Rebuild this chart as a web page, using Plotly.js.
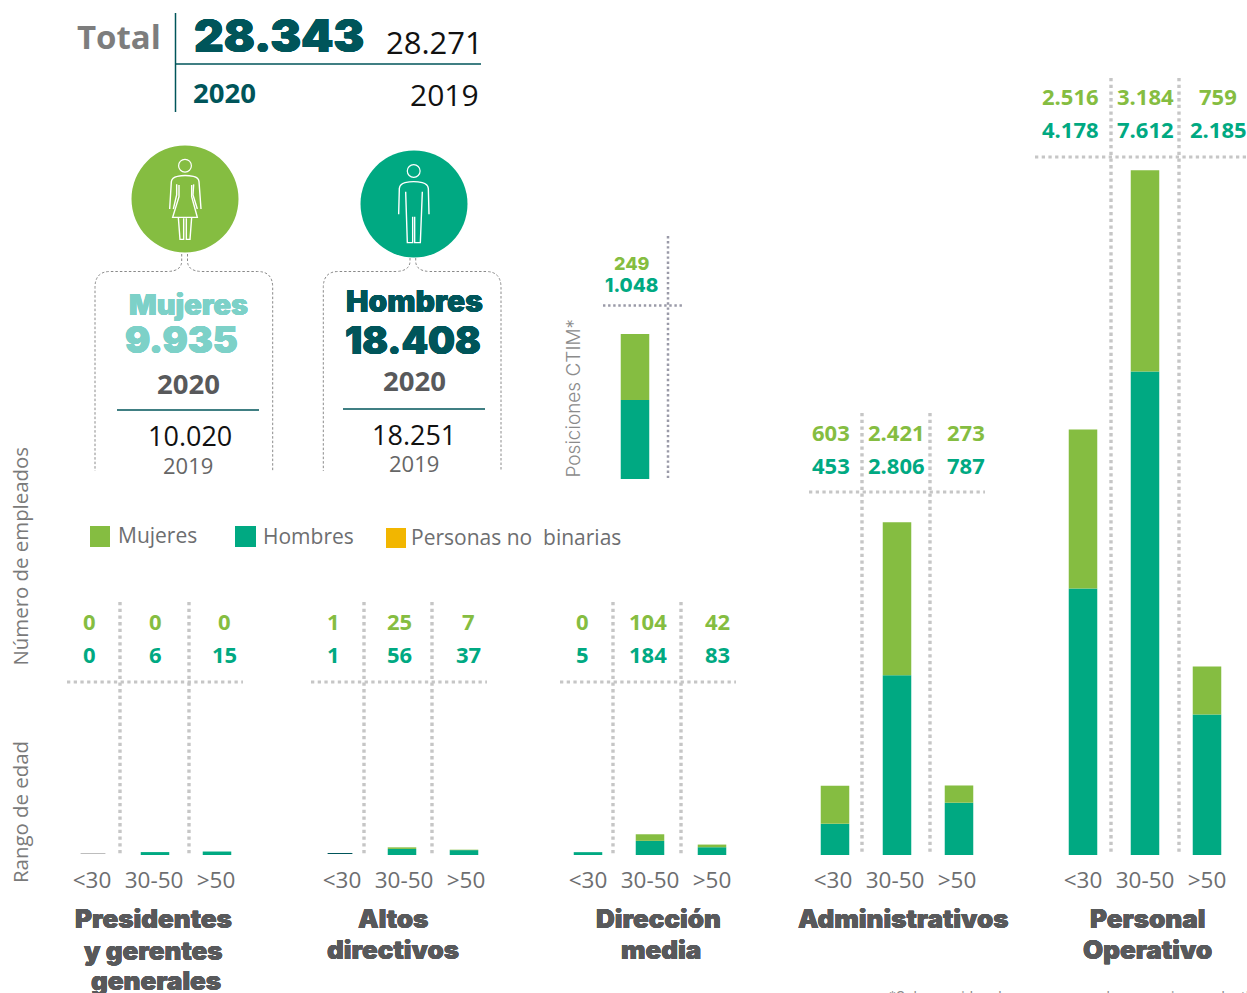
<!DOCTYPE html>
<html lang="es">
<head>
<meta charset="utf-8">
<script src="https://cdn.plot.ly/plotly-3.0.1.min.js"></script>
<style>html,body{margin:0;padding:0;background:#fff;overflow:hidden}#g{width:1247px;height:993px}</style>
</head>
<body>
<div id="g"></div>
<script>
// ---- datos ----
const rangosEdad = ['<30', '30-50', '>50'];
const presidentesMujeres = [0, 0, 0];
const presidentesHombres = [0, 6, 15];
const altosMujeres = [1, 25, 7];
const altosHombres = [1, 56, 37];
const direccionMujeres = [0, 104, 42];
const direccionHombres = [5, 184, 83];
const administrativosMujeres = [603, 2421, 273];
const administrativosHombres = [453, 2806, 787];
const operativoMujeres = [2516, 3184, 759];
const operativoHombres = [4178, 7612, 2185];
const ctimEtiquetaMujeres = 249;
const ctimEtiquetaHombres = 1048;
// Alturas de la barra CTIM tal como se leen en la imagen (no proporcionales a sus etiquetas)
const ctimBarraMujeres = [1046];
const ctimBarraHombres = [1250];
const totales = {a2020: 28343, a2019: 28271};
const mujeresTotal = [9935, 10020];
const hombresTotal = [18408, 18251];

// ---- estilos ----
const W = 1247, H = 993;
const VERDE = '#85bd41', TEAL = '#00a982', OSCURO = '#00555a', AGUA = '#7dd1c8', GRIS = '#58595b', PUNTOS = '#c6c6c6';
const HEAVY = 'Inter, Lato, sans-serif', SANS = '"Open Sans", sans-serif';
const PXU = 0.0632, BASE_OFF = 40;
const fx = x => x / W, fy = y => 1 - y / H;
const es = v => String(v).replace(/\B(?=(\d{3})+(?!\d))/g, '.');

const paneles = [
  {m: presidentesMujeres, h: presidentesHombres, x0: 62, shift: -1, lab: [89, 155, 224], rowG: 620.5, rowT: 653.5, vx: [120, 189], top: 602, hy: 682, hx: [67, 243]},
  {m: altosMujeres, h: altosHombres, x0: 309, shift: 2, lab: [333.5, 399, 468], rowG: 620.5, rowT: 653.5, vx: [364, 432], top: 602, hy: 682, hx: [311, 487]},
  {m: direccionMujeres, h: direccionHombres, x0: 557, shift: 2.5, lab: [582.5, 648, 717], rowG: 620.5, rowT: 653.5, vx: [613, 681], top: 602, hy: 682, hx: [560, 736]},
  {m: administrativosMujeres, h: administrativosHombres, x0: 804, shift: -2, lab: [831, 896.5, 966], rowG: 431.5, rowT: 464.5, vx: [862, 930], top: 413, hy: 492, hx: [809, 985]},
  {m: operativoMujeres, h: operativoHombres, x0: 1052, shift: -1.5, lab: [1070.5, 1145.5, 1218], rowG: 96.5, rowT: 128.5, vx: [1111, 1179], top: 78, hy: 157, hx: [1035, 1247]}
];

const ejeBase = {type: 'category', showgrid: false, zeroline: false, showline: false, ticks: '',
  fixedrange: true, categoryorder: 'array'};
const layout = {
  width: W, height: H, margin: {l: 0, r: 0, t: 0, b: 0}, showlegend: false,
  paper_bgcolor: '#fff', plot_bgcolor: 'rgba(0,0,0,0)', barmode: 'overlay', bargap: 0.54,
  hovermode: false,
  yaxis: {domain: [fy(855), 1], range: [-BASE_OFF, 855 / PXU - BASE_OFF], visible: false, fixedrange: true},
  yaxis2: {domain: [fy(479), 1], range: [0, 479 / PXU], visible: false, fixedrange: true},
  shapes: [], annotations: []
};
const traces = [];
const txt = (s, x, y, size, color, extra = {}) => {
  const {weight = 400, family = SANS, angle = 0, anchor = 'center', shadow = 'none'} = extra;
  layout.annotations.push({text: s, xref: 'paper', yref: 'paper', x: fx(x), y: fy(y), xanchor: anchor, yanchor: 'middle',
    showarrow: false, textangle: angle, font: {family, size, color, weight, shadow}});
};
const grueso = (c, d = 0.6) => `${d}px 0 0 ${c}, -${d}px 0 0 ${c}, 0 ${d * 0.8}px 0 ${c}, 0 -${d * 0.8}px 0 ${c}`;
const linea = (x0, y0, x1, y1, color, width, dash) => layout.shapes.push({type: 'line', xref: 'paper', yref: 'paper',
  x0: fx(x0), y0: fy(y0), x1: fx(x1), y1: fy(y1), line: {color, width, dash: dash || 'solid'}, layer: 'below'});
const PDASH = '3.3px,3.4px';

paneles.forEach((p, i) => {
  const xn = 'x' + (i ? i + 1 : ''), key = 'xaxis' + (i ? i + 1 : '');
  layout[key] = {...ejeBase, categoryarray: rangosEdad, domain: [fx(p.x0), fx(p.x0 + 186)], range: [-0.5, 2.5], anchor: 'y',
    ticklabelstandoff: 9, ticklabelshift: p.shift, tickfont: {family: SANS, size: 22.5, color: '#6d6e70'}};
  traces.push({type: 'bar', name: 'Hombres', xaxis: xn, yaxis: 'y', x: rangosEdad,
    y: p.h.map(v => v <= 1 ? 16 : v + BASE_OFF),
    base: p.h.map(v => v <= 1 ? -24 : -BASE_OFF),
    width: p.h.map(v => v <= 1 ? 0.4 : 0.46),
    marker: {color: p.h.map(v => v === 0 ? '#bdbdbd' : v === 1 ? OSCURO : TEAL)}});
  traces.push({type: 'bar', name: 'Mujeres', xaxis: xn, yaxis: 'y', x: rangosEdad,
    y: p.m.map((v, k) => p.h[k] <= 1 ? 0 : v), base: p.h, width: 0.46, marker: {color: VERDE}});
  p.lab.forEach((lx, k) => {
    txt(es(p.m[k]), lx, p.rowG, 22, VERDE, {weight: 700});
    txt(es(p.h[k]), lx, p.rowT, 22, TEAL, {weight: 700});
  });
  p.vx.forEach(vx => linea(vx, p.top, vx, 855, PUNTOS, 3.4, PDASH));
  linea(p.hx[0], p.hy, p.hx[1], p.hy, PUNTOS, 3.2, PDASH);
});

// CTIM
layout.xaxis6 = {...ejeBase, categoryarray: ['CTIM'], domain: [fx(604), fx(666)], range: [-0.5, 0.5], anchor: 'y2', showticklabels: false};
traces.push({type: 'bar', name: 'Hombres', xaxis: 'x6', yaxis: 'y2', x: ['CTIM'], y: ctimBarraHombres, base: [0], marker: {color: TEAL}});
traces.push({type: 'bar', name: 'Mujeres', xaxis: 'x6', yaxis: 'y2', x: ['CTIM'], y: ctimBarraMujeres, base: ctimBarraHombres, marker: {color: VERDE}});
linea(668, 236, 668, 479, '#9a9aa8', 2.5, '2.4px,2.7px');
linea(603, 305.5, 683, 305.5, '#9a9aa8', 2.5, '2.4px,2.7px');
txt(es(ctimEtiquetaMujeres), 632, 263.5, 18, VERDE, {weight: 800, family: 'Inter, sans-serif'});
txt(es(ctimEtiquetaHombres), 631, 286, 19, TEAL, {weight: 800, family: 'Inter, sans-serif'});
txt('Posiciones CTIM*', 573, 398.5, 19, '#8b8b8b', {angle: -90, family: 'Inter, sans-serif', weight: 300});

// Etiquetas de eje
txt('Número de empleados', 19.5, 556, 20.4, '#7a7a7a', {angle: -90});
txt('Rango de edad', 19.5, 812.5, 20.4, '#7a7a7a', {angle: -90});

// Cabecera
txt('Total', 118.5, 37, 33, '#7d7d7d', {weight: 700});
txt(es(totales.a2020), 279, 35, 46, OSCURO, {weight: 900, family: HEAVY, shadow: grueso(OSCURO)});
txt(es(totales.a2019), 434, 42, 31, '#111');
txt('2020', 224, 92.5, 27.5, OSCURO, {weight: 700});
txt('2019', 444.5, 94.5, 30, '#111');
linea(175.5, 13, 175.5, 112, OSCURO, 1.5);
linea(176, 64, 481, 64, OSCURO, 1.5);

// Círculos e iconos
const circulo = (cx, cy, r, color) => layout.shapes.push({type: 'circle', xref: 'paper', yref: 'paper',
  x0: fx(cx - r), x1: fx(cx + r), y0: fy(cy + r), y1: fy(cy - r), fillcolor: color, line: {width: 0}, layer: 'below'});
circulo(185, 199, 53.5, VERDE);
circulo(414, 204, 53.5, TEAL);
const trazo = (d, color, width, dash) => {
  const s = d.replace(/(-?[\d.]+) (-?[\d.]+)/g, (m, a, b) => fx(+a) + ' ' + fy(+b));
  layout.shapes.push({type: 'path', xref: 'paper', yref: 'paper', path: s, line: {color, width, dash: dash || 'solid'}, layer: 'above'});
};
const zoom = d => d.replace(/(-?[\d.]+) (-?[\d.]+)/g, (m, a, b) => (60 + a / 3) + ' ' + (b / 3));
circulo(185, 165.7, 7, '#fff');
circulo(185, 165.7, 5.8, VERDE);
circulo(413.7, 171, 7, '#fff');
circulo(413.7, 171, 5.8, TEAL);
trazo(zoom('M 329 627 L 334 545 Q 336 532 352 529 Q 375 524 400 529 Q 416 532 417 545 L 423 627'), '#fff', 1.4);
trazo(zoom('M 340 627 L 350 585 L 350 553 M 412 627 L 399 585 L 401 553'), '#fff', 1.4);
trazo(zoom('M 357 555 L 357 590 L 338 652 L 412 652 L 395 590 L 395 555'), '#fff', 1.4);
trazo(zoom('M 355 652 L 360 718 L 371 718 L 371 655 M 379 655 L 379 718 L 390 718 L 395 652'), '#fff', 1.4);
trazo(zoom('M 1016 643 L 1018 565 Q 1020 552 1035 548 Q 1061 542 1087 548 Q 1103 552 1105 565 L 1107 643'), '#fff', 1.4);
trazo(zoom('M 1037 575 L 1042 728 L 1058 728 L 1058 650 M 1064 650 L 1064 728 L 1081 728 L 1087 575'), '#fff', 1.4);

// Llaves punteadas
const llave = (xl, xc1, xc2, xr, yTop) => {
  const y = 271.5, b = 471, c = '#8a8a8a', dd = '2.5px,2px';
  trazo(`M ${xc1} ${yTop} L ${xc1} 261 Q ${xc1} 271 ${xc1 - 14} ${y} L ${xl + 15} ${y} Q ${xl} ${y} ${xl} ${y + 16} L ${xl} ${b}`, c, 1, dd);
  trazo(`M ${xc2} ${yTop} L ${xc2} 261 Q ${xc2} 271 ${xc2 + 14} ${y} L ${xr - 15} ${y} Q ${xr} ${y} ${xr} ${y + 16} L ${xr} ${b}`, c, 1, dd);
};
llave(95, 181.7, 187.5, 272.7, 254);
llave(323.3, 410, 415.7, 501, 258);

// Mujeres
txt('Mujeres', 188, 304.5, 29, AGUA, {weight: 900, family: HEAVY, shadow: grueso(AGUA, 0.35)});
txt(es(mujeresTotal[0]), 181.5, 340, 37.5, AGUA, {weight: 900, family: HEAVY, shadow: grueso(AGUA, 0.5)});
txt('2020', 188, 383, 27.5, GRIS, {weight: 700});
linea(117, 410, 259, 410, OSCURO, 1.5);
txt(es(mujeresTotal[1]), 190, 435, 27, '#111');
txt('2019', 188, 464.5, 22, '#666');
// Hombres
txt('Hombres', 414, 301.5, 30, OSCURO, {weight: 900, family: HEAVY, shadow: grueso(OSCURO, 0.35)});
txt(es(hombresTotal[0]), 413.5, 340, 38, OSCURO, {weight: 900, family: HEAVY, shadow: grueso(OSCURO, 0.5)});
txt('2020', 414, 380, 27.5, GRIS, {weight: 700});
linea(343, 409, 485, 409, OSCURO, 1.5);
txt(es(hombresTotal[1]), 414, 434, 27, '#111');
txt('2019', 414, 463.5, 22, '#666');

// Leyenda
const cuadro = (x0, y0, x1, y1, color) => layout.shapes.push({type: 'rect', xref: 'paper', yref: 'paper',
  x0: fx(x0), x1: fx(x1), y0: fy(y1), y1: fy(y0), fillcolor: color, line: {width: 0}, layer: 'below'});
cuadro(90, 526, 110, 547, VERDE);
cuadro(235, 526, 256, 547, TEAL);
cuadro(386, 528, 406, 548, '#f2b600');
txt('Mujeres', 115.5, 534.5, 21, '#6d6e70', {anchor: 'left'});
txt('Hombres', 260.5, 535.5, 21, '#6d6e70', {anchor: 'left'});
txt('Personas no&nbsp;&nbsp;binarias', 408.5, 536.5, 21, '#6d6e70', {anchor: 'left'});

// Nombres de grupo
const grupo = (s, x, y) => txt(s, x, y, 26, GRIS, {weight: 900, family: HEAVY, shadow: grueso(GRIS, 0.3)});
grupo('Presidentes', 153, 918); grupo('y gerentes', 153, 950); grupo('generales', 156, 980.5);
grupo('Altos', 393, 918); grupo('directivos', 393, 949);
grupo('Dirección', 658.5, 918); grupo('media', 661, 949);
grupo('Administrativos', 903, 918);
grupo('Personal', 1147, 918); grupo('Operativo', 1147, 949);

// Nota
txt('*Solo considera las personas en los negocios productivos', 887, 996, 14, '#8b8b8b', {anchor: 'left', family: 'Inter, sans-serif'});

Plotly.newPlot('g', traces, layout, {displayModeBar: false, staticPlot: true});
</script>
</body>
</html>
